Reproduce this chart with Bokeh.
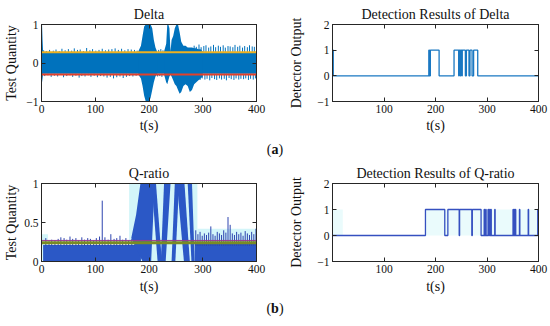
from bokeh.plotting import figure
from bokeh.models import Range1d, LinearAxis, FixedTicker, CustomJSTickFormatter, Div
from bokeh.layouts import column, row
from bokeh.embed import file_html
from bokeh.resources import INLINE

FONT = "Liberation Serif"
AX = "#262626"
TXT = "#111111"

# ---------------- Delta test quantity ----------------
delta_core_t = [0, 400]
delta_core_lo = [-0.28, -0.28]
delta_core_hi = [0.27, 0.27]
delta_start_t = [0, 1, 2, 3]
delta_start_hi = [1.0, 1.0, 0.6, 0.3]
delta_start_lo = [-0.5, -0.5, -0.4, -0.28]
burst1_t = [180, 185, 188, 191, 194, 197, 200, 203, 206, 209, 212, 215]
burst1_hi = [0.3, 0.45, 0.7, 0.95, 1.0, 1.0, 1.0, 1.0, 0.9, 0.6, 0.4, 0.3]
burst1_lo = [-0.3, -0.4, -0.6, -0.85, -1.0, -1.0, -1.0, -0.9, -0.7, -0.5, -0.35, -0.3]
burst2_t = [228, 232, 234, 236, 238, 240, 242, 245, 248, 251, 254, 257, 260, 264, 268, 272, 276, 280, 284, 288, 292, 296, 300]
burst2_hi = [0.3, 0.5, 1.0, 1.0, 0.9, 0.3, 0.6, 0.7, 0.9, 1.0, 1.0, 0.8, 0.55, 0.45, 0.45, 0.4, 0.4, 0.4, 0.38, 0.38, 0.36, 0.36, 0.3]
burst2_lo = [-0.3, -0.5, -0.55, -0.45, -0.35, -0.3, -0.35, -0.45, -0.55, -0.6, -0.7, -0.8, -0.75, -0.6, -0.55, -0.6, -0.75, -0.7, -0.55, -0.5, -0.45, -0.4, -0.35]
delta_up_t = [4, 9, 15, 22, 27, 33, 38, 44, 50, 56, 61, 67, 72, 78, 84, 90, 95, 101, 107, 113,
              119, 125, 131, 137, 143, 149, 155, 161, 167, 173, 178, 218, 222, 226,
              284, 288, 293, 297, 302, 306, 311, 315, 320, 324, 329, 333, 338, 342, 347, 351,
              356, 360, 365, 369, 374, 378, 383, 387, 392, 396]
delta_up_v = [0.33, 0.31, 0.34, 0.32, 0.35, 0.31, 0.37, 0.33, 0.36, 0.32, 0.38, 0.34, 0.35, 0.31, 0.39, 0.33, 0.36, 0.32, 0.34, 0.37,
              0.33, 0.35, 0.36, 0.38, 0.34, 0.37, 0.33, 0.36, 0.35, 0.34, 0.32, 0.34, 0.36, 0.33,
              0.45, 0.42, 0.48, 0.41, 0.44, 0.46, 0.40, 0.43, 0.47, 0.41, 0.45, 0.42, 0.46, 0.40, 0.44, 0.43,
              0.41, 0.47, 0.42, 0.45, 0.40, 0.44, 0.41, 0.46, 0.43, 0.42]
delta_dn_t = [6, 12, 18, 24, 30, 36, 41, 47, 53, 58, 64, 70, 75, 81, 87, 92, 98, 104, 110, 116,
              122, 128, 134, 140, 146, 152, 158, 164, 170, 176, 216, 220, 224,
              286, 290, 295, 299, 304, 308, 313, 317, 322, 326, 331, 335, 340, 344, 349, 353,
              358, 362, 367, 371, 376, 380, 385, 389, 394, 398]
delta_dn_v = [-0.34, -0.32, -0.36, -0.33, -0.35, -0.31, -0.37, -0.34, -0.32, -0.36, -0.33, -0.38, -0.34, -0.35, -0.32, -0.36, -0.33, -0.37, -0.34, -0.35,
              -0.38, -0.36, -0.40, -0.37, -0.35, -0.39, -0.36, -0.34, -0.35, -0.33, -0.35, -0.34, -0.36,
              -0.45, -0.42, -0.44, -0.40, -0.43, -0.41, -0.45, -0.39, -0.42, -0.44, -0.40, -0.43, -0.41, -0.45, -0.39, -0.42,
              -0.44, -0.40, -0.43, -0.41, -0.42, -0.40, -0.44, -0.41, -0.43, -0.40]
delta_thr_upper = 0.28
delta_thr_lower = -0.30

# ---------------- Delta detector output ----------------
delta_on = [0, 187, 190, 236, 246, 249, 252, 260, 267, 274]
delta_off = [1.5, 188.5, 207, 245, 248, 251, 258, 265, 271, 282]

# ---------------- Q-ratio test quantity ----------------
q_bg_left = [0, 163, 290]
q_bg_right = [12, 290, 400]
q_bg_top = [0.35, 1.0, 0.42]
q_core_left = [3, 285]
q_core_right = [185, 400]
q_core_top = [0.21, 0.25]
q_spk_t = [8, 14, 19, 25, 31, 36, 42, 47, 53, 58, 64, 69, 75, 80, 86, 91, 97, 102, 108, 113,
           118, 124, 129, 135, 140, 146, 151, 157, 162, 168, 174, 179,
           287, 291, 295, 299, 303, 307, 311, 315, 319, 323, 327, 331, 335, 339, 343, 347, 351, 355,
           359, 363, 367, 371, 375, 379, 383, 387, 391, 395, 399]
q_spk_v = [0.30, 0.26, 0.28, 0.27, 0.29, 0.31, 0.30, 0.28, 0.32, 0.29, 0.30, 0.27, 0.31, 0.28, 0.30, 0.29, 0.27, 0.30, 0.32, 0.78,
           0.31, 0.28, 0.35, 0.29, 0.30, 0.33, 0.28, 0.30, 0.27, 0.29, 0.32, 0.36,
           0.40, 0.35, 0.38, 0.33, 0.36, 0.34, 0.37, 0.45, 0.35, 0.33, 0.38, 0.36, 0.34, 0.40, 0.37, 0.57, 0.47, 0.36,
           0.34, 0.38, 0.35, 0.37, 0.33, 0.39, 0.36, 0.34, 0.38, 0.35, 0.42]
q_lobe_y = [0.0, 0.3, 0.6, 1.0]
q_lobe_xl = [188, 167, 176, 184]
q_lobe_xr = [204, 206, 208, 211]
q_stroke_levels = [0.0, 1.0]
q_stroke_bot_left = [216, 222, 242, 265, 279]
q_stroke_bot_right = [224, 231, 249, 276, 285]
q_stroke_top_left = [205, 228, 248, 252, 272]
q_stroke_top_right = [213, 240, 256, 266, 280]
q_thr_green = 0.24
q_thr_purple = 0.27

# ---------------- Q-ratio detector output ----------------
q_on = [180.5, 224, 246.8, 271.5, 294.5, 297.5, 302, 305, 307.5, 315, 350.5, 352.5, 355, 363, 380, 398.5]
q_off = [218, 246, 270.5, 288.5, 295.3, 298.3, 303, 306, 308.3, 315.8, 351.3, 353.3, 355.8, 363.8, 380.8, 400]
q_det_bg_left = [0, 180]
q_det_bg_right = [20, 400]

x_ticks_full = [0, 100, 200, 300, 400]
x_ticks_right = [100, 200, 300, 400]


def step_xy(on, off, t0, t1):
    xs, ys = [t0], [0]
    for a, b in zip(on, off):
        xs += [a, a, b, b]
        ys += [0, 1, 1, 0]
    xs.append(t1)
    ys.append(0)
    return xs, ys


def make_fig(w, h, yr, bl, br, bt, bb, xticks, yticks, ylabels, title, ylab, ystand, xstand):
    p = figure(width=w, height=h, x_range=Range1d(0, 400), y_range=Range1d(*yr),
               output_backend="svg", toolbar_location=None,
               min_border_left=bl, min_border_right=br, min_border_top=bt, min_border_bottom=bb)
    p.xgrid.visible = False
    p.ygrid.visible = False
    p.outline_line_color = AX
    p.background_fill_color = "white"
    p.border_fill_color = "white"
    p.title.text = title
    p.title.align = "center"
    p.title.text_font = FONT
    p.title.text_font_size = "14px"
    p.title.text_font_style = "normal"
    p.title.text_color = TXT
    p.title.standoff = 5
    for ax in (p.xaxis[0], p.yaxis[0]):
        ax.axis_line_color = AX
        ax.major_tick_line_color = AX
        ax.major_tick_in = 4
        ax.major_tick_out = 0
        ax.minor_tick_line_color = None
        ax.major_label_text_font = FONT
        ax.major_label_text_font_size = "11.5px"
        ax.major_label_text_color = TXT
        ax.axis_label_text_font = FONT
        ax.axis_label_text_font_size = "14px"
        ax.axis_label_text_font_style = "normal"
        ax.axis_label_text_color = TXT
    p.xaxis[0].ticker = FixedTicker(ticks=xticks)
    p.xaxis[0].major_label_standoff = 3
    p.xaxis[0].axis_label = "t(s)"
    p.xaxis[0].axis_label_standoff = xstand
    p.yaxis[0].ticker = FixedTicker(ticks=yticks)
    p.yaxis[0].major_label_overrides = ylabels
    p.yaxis[0].major_label_standoff = 3
    p.yaxis[0].axis_label = ylab
    p.yaxis[0].axis_label_standoff = ystand
    blank = CustomJSTickFormatter(code="return ''")
    top = LinearAxis(ticker=FixedTicker(ticks=xticks), formatter=blank, major_tick_in=4, major_tick_out=0,
                     minor_tick_line_color=None, axis_line_color=AX, major_tick_line_color=AX,
                     major_label_standoff=0, major_label_text_font_size="0px")
    right = LinearAxis(ticker=FixedTicker(ticks=yticks), formatter=blank, major_tick_in=4, major_tick_out=0,
                       minor_tick_line_color=None, axis_line_color=AX, major_tick_line_color=AX,
                       major_label_standoff=0, major_label_text_font_size="0px")
    p.add_layout(top, "above")
    p.add_layout(right, "right")
    return p


# ===== p1 : Delta =====
BLUE = "#0072BD"
p1 = make_fig(286, 140, (-1, 1), 41, 30, 24, 39, x_ticks_full, [-1, 0, 1],
              {-1: "\u22121", 0: "0", 1: "1"}, "Delta", "Test Quantity", 4, 2)
p1.varea(x=delta_core_t, y1=delta_core_lo, y2=delta_core_hi, color=BLUE)
p1.varea(x=delta_start_t, y1=delta_start_lo, y2=delta_start_hi, color=BLUE)
p1.varea(x=burst1_t, y1=burst1_lo, y2=burst1_hi, color=BLUE)
p1.varea(x=burst2_t, y1=burst2_lo, y2=burst2_hi, color=BLUE)
p1.segment(x0=delta_up_t, y0=[delta_core_hi[0]] * len(delta_up_t), x1=delta_up_t, y1=delta_up_v, color=BLUE, line_width=1)
p1.segment(x0=delta_dn_t, y0=[delta_core_lo[0]] * len(delta_dn_t), x1=delta_dn_t, y1=delta_dn_v, color=BLUE, line_width=1)
p1.line(x=[0, 400], y=[delta_thr_upper, delta_thr_upper], color="#EDB120", line_width=2)
p1.line(x=[0, 400], y=[delta_thr_lower, delta_thr_lower], color="#E2402A", line_width=2)

# ===== p2 : Delta detection =====
p2 = make_fig(264, 140, (-1, 2), 38, 12, 24, 39, x_ticks_right, [-1, 0, 1, 2],
              {-1: "\u22121", 0: "0", 1: "1", 2: "2"}, "Detection Results of Delta", "Detector Output", 10, 2)
dx, dy = step_xy(delta_on, delta_off, 0, 400)
p2.line(x=dx, y=dy, color="#1A78C2", line_width=1.3)

# ===== p3 : Q-ratio =====
QBLUE = "#2B58C6"
p3 = make_fig(286, 136, (0, 1), 41, 30, 23, 34, x_ticks_full, [0, 0.5, 1],
              {0: "0", 0.5: "0.5", 1: "1"}, "Q-ratio", "Test Quantity", 2, 3)
p3.quad(left=q_bg_left, right=q_bg_right, bottom=[0] * len(q_bg_left), top=q_bg_top, color="#D3F5F9", line_color=None)
p3.quad(left=q_core_left, right=q_core_right, bottom=[0] * len(q_core_left), top=q_core_top, color=QBLUE, line_color=None)
p3.segment(x0=q_spk_t, y0=[0.2] * len(q_spk_t), x1=q_spk_t, y1=q_spk_v, color="#2E45B0", line_width=1)
p3.harea(y=q_lobe_y, x1=q_lobe_xl, x2=q_lobe_xr, color=QBLUE)
for i in range(len(q_stroke_bot_left)):
    p3.harea(y=q_stroke_levels, x1=[q_stroke_bot_left[i], q_stroke_top_left[i]],
             x2=[q_stroke_bot_right[i], q_stroke_top_right[i]], color=QBLUE)
p3.line(x=[0, 400], y=[q_thr_green, q_thr_green], color="#7A8B24", line_width=3)
p3.line(x=[0, 400], y=[q_thr_purple, q_thr_purple], color="#9B3B8E", line_width=1)

# ===== p4 : Q-ratio detection =====
p4 = make_fig(264, 136, (-1, 2), 38, 12, 23, 34, x_ticks_right, [-1, 0, 1, 2],
              {-1: "\u22121", 0: "0", 1: "1", 2: "2"}, "Detection Results of Q-ratio", "Detector Output", 10, 3)
p4.quad(left=q_det_bg_left, right=q_det_bg_right, bottom=[0, 0], top=[1, 1], color="#EAFBFC", line_color=None)
qx, qy = step_xy(q_on, q_off, 0, 400)
p4.line(x=qx, y=qy, color="#3550C0", line_width=1.3)

div_style = {"font-family": FONT, "font-size": "14px", "color": TXT, "text-align": "center", "width": "100%"}
div_a = Div(text="(<b>a</b>)", width=550, height=20, margin=(0, 0, 0, 0),
            styles=dict(div_style, **{"line-height": "20px"}))
div_b = Div(text="(<b>b</b>)", width=550, height=26, margin=(0, 0, 0, 0),
            styles=dict(div_style, **{"line-height": "26px"}))

layout = column(row(p1, p2), div_a, row(p3, p4), div_b)
open("out.html", "w").write(file_html(layout, INLINE))
